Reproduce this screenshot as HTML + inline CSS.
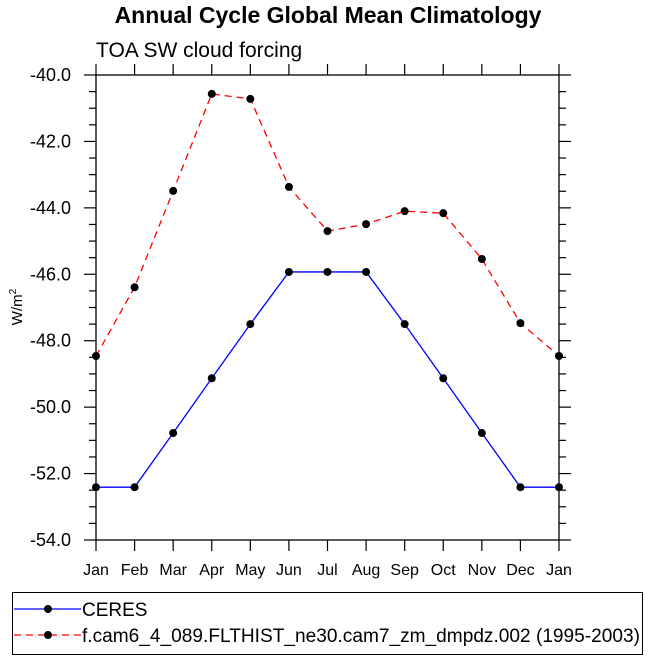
<!DOCTYPE html>
<html><head><meta charset="utf-8"><style>
body{margin:0;background:#fff;font-family:"Liberation Sans",Arial,sans-serif}
svg{display:block}
</style></head><body>
<svg id="c" width="649" height="660" xmlns="http://www.w3.org/2000/svg">
<text x="328" y="23" text-anchor="middle" font-size="23" font-weight="bold">Annual Cycle Global Mean Climatology</text>
<text x="96" y="57" font-size="21">TOA SW cloud forcing</text>
<text transform="translate(22,307) rotate(-90)" text-anchor="middle" font-size="15">W/m<tspan dy="-6" font-size="10">2</tspan></text>
<g id="axes"></g>
<g id="series"></g>
<g>
<rect x="12.5" y="592.5" width="630" height="62" fill="none" stroke="#000" stroke-width="1"/>
<g>
<line x1="14" y1="609" x2="81" y2="609" stroke="#0000ff" stroke-width="1.3"/>
<circle cx="48" cy="609" r="4" fill="#000"/>
<text x="82" y="616" font-size="19">CERES</text></g>
<g>
<line x1="14" y1="635" x2="81" y2="635" stroke="#ff0000" stroke-width="1.3" stroke-dasharray="7,5"/>
<circle cx="48" cy="635" r="4" fill="#000"/>
<text x="82" y="642" font-size="19" textLength="558" lengthAdjust="spacingAndGlyphs">f.cam6_4_089.FLTHIST_ne30.cam7_zm_dmpdz.002 (1995-2003)</text></g>
</g>
</svg>
<script>
const months=["Jan","Feb","Mar","Apr","May","Jun","Jul","Aug","Sep","Oct","Nov","Dec","Jan"];
const ceres=[-52.41,-52.41,-50.78,-49.13,-47.5,-45.93,-45.93,-45.93,-47.5,-49.13,-50.78,-52.41,-52.41];
const model=[-48.46,-46.39,-43.49,-40.57,-40.72,-43.37,-44.70,-44.49,-44.10,-44.16,-45.54,-47.47,-48.46];
const yTicks=[-40,-42,-44,-46,-48,-50,-52,-54];
const NS="http://www.w3.org/2000/svg";
const L=96,R=559,T=75,B=540,ymin=-54,ymax=-40;
const xs=i=>L+(R-L)*i/(months.length-1);
const ys=v=>T+(ymax-v)/(ymax-ymin)*(B-T);
function mk(tag,at,par){const e=document.createElementNS(NS,tag);for(const k in at)e.setAttribute(k,at[k]);par.appendChild(e);return e;}
const ax=document.getElementById('axes');
const fr=mk('rect',{x:L,y:T,width:R-L,height:B-T,fill:'none',stroke:'#000','stroke-width':1.3},ax);


for(let v=ymin;v<=ymax+1e-9;v+=0.5){
  const y=ys(v),maj=Math.abs(v/2-Math.round(v/2))<1e-9,len=maj?12:7;
  mk('line',{x1:L-len,y1:y,x2:L,y2:y,stroke:'#000','stroke-width':1.2},ax);
  mk('line',{x1:R,y1:y,x2:R+len,y2:y,stroke:'#000','stroke-width':1.2},ax);
}
yTicks.forEach(v=>{
  const t=mk('text',{x:L-25,y:ys(v)+6,'text-anchor':'end','font-size':18},ax);
  t.textContent=v.toFixed(1);
  
  
});
months.forEach((m,i)=>{
  const x=xs(i);
  mk('line',{x1:x,y1:B,x2:x,y2:B+11,stroke:'#000','stroke-width':1.2},ax);
  mk('line',{x1:x,y1:T-11,x2:x,y2:T,stroke:'#000','stroke-width':1.2},ax);
  const t=mk('text',{x:x,y:B+35,'text-anchor':'middle','font-size':16},ax);
  t.textContent=m;
  
  
});
const sg=document.getElementById('series');
function series(d,col,dash,name){
  const p=mk('polyline',{points:d.map((v,i)=>xs(i)+','+ys(v)).join(' '),fill:'none',stroke:col,'stroke-width':1.3,'stroke-dasharray':dash},sg);
  
  
  d.forEach((v,i)=>{
    const c=mk('circle',{cx:xs(i),cy:ys(v),r:4,fill:'#000'},sg);
    
    
  });
}
series(model,'#ff0000','7,5','model');
series(ceres,'#0000ff','none','ceres');
</script>
</body></html>
